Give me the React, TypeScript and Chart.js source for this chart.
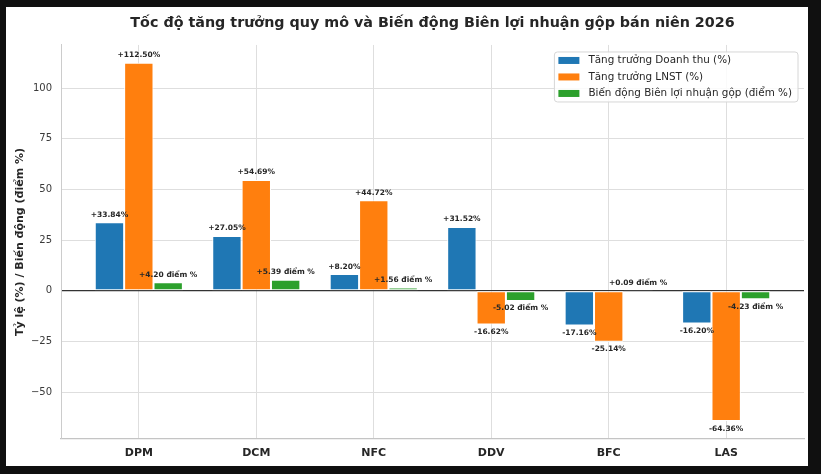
import { useEffect, useRef } from 'react';
import { Chart, registerables } from 'chart.js';

Chart.register(...registerables);

const categories = ['DPM', 'DCM', 'NFC', 'DDV', 'BFC', 'LAS'];
const revenueGrowth = [33.84, 27.05, 8.2, 31.52, -17.16, -16.2];
const profitGrowth = [112.5, 54.69, 44.72, -16.62, -25.14, -64.36];
const marginChange = [4.2, 5.39, 1.56, -5.02, 0.09, -4.23];
const seriesLabels = [
  'Tăng trưởng Doanh thu (%)',
  'Tăng trưởng LNST (%)',
  'Biến động Biên lợi nhuận gộp (điểm %)',
];
const seriesColors = ['#1f77b4', '#ff7f0e', '#2ca02c'];
const yTicks = [-50, -25, 0, 25, 50, 75, 100];

const FONT = '"DejaVu Sans", sans-serif';

// value labels above / below each bar
const valueLabels = {
  id: 'valueLabels',
  afterDatasetsDraw(chart: any) {
    const { ctx } = chart;
    ctx.save();
    ctx.font = `bold 7.5px ${FONT}`;
    ctx.fillStyle = '#262626';
    ctx.textAlign = 'center';
    ctx.textBaseline = 'middle';
    chart.data.datasets.forEach((ds: any, di: number) => {
      const meta = chart.getDatasetMeta(di);
      meta.data.forEach((bar: any, i: number) => {
        const v = ds.data[i].y;
        const sign = v >= 0 ? '+' : '';
        const text = di === 2 ? `${sign}${v.toFixed(2)} điểm %` : `${sign}${v.toFixed(2)}%`;
        const y = v >= 0 ? bar.y - 7.5 : bar.y + 7.5;
        ctx.fillText(text, bar.x, y);
      });
    });
    ctx.restore();
  },
};

// matplotlib-like legend in the upper right of the plot area
const cornerLegend = {
  id: 'cornerLegend',
  afterDraw(chart: any) {
    const { ctx, chartArea } = chart;
    ctx.save();
    ctx.font = `10.4px ${FONT}`;
    const textW = Math.max(...seriesLabels.map((s) => ctx.measureText(s).width));
    const w = 34 + textW + 6;
    const h = 50;
    const left = chartArea.right - 6 - w;
    const top = chartArea.top + 7;
    ctx.beginPath();
    ctx.roundRect(left, top, w, h, 3);
    ctx.fillStyle = 'rgba(255,255,255,0.85)';
    ctx.fill();
    ctx.strokeStyle = '#d6d6d6';
    ctx.lineWidth = 1;
    ctx.stroke();
    ctx.textBaseline = 'middle';
    ctx.textAlign = 'left';
    seriesLabels.forEach((label, i) => {
      const cy = top + 8.5 + i * 16.5;
      ctx.fillStyle = seriesColors[i];
      ctx.fillRect(left + 4, cy - 3.5, 21, 7);
      ctx.fillStyle = '#262626';
      ctx.fillText(label, left + 34, cy);
    });
    ctx.restore();
  },
};

export default function App() {
  const canvasRef = useRef<HTMLCanvasElement>(null);

  useEffect(() => {
    if (!canvasRef.current) return;
    const series = [revenueGrowth, profitGrowth, marginChange];

    const chart = new Chart(canvasRef.current, {
      type: 'bar',
      data: {
        datasets: series.map((values, si) => ({
          label: seriesLabels[si],
          data: values.map((v, i) => ({ x: i, y: v })),
          backgroundColor: seriesColors[si],
          borderColor: '#ffffff',
          borderWidth: 1,
          borderSkipped: false,
          categoryPercentage: 0.75,
          barPercentage: 1,
        })),
      },
      options: {
        animation: false,
        responsive: true,
        maintainAspectRatio: false,
        layout: { padding: { left: 0, right: 4, top: 0, bottom: 0 } },
        plugins: {
          legend: { display: false },
          tooltip: { enabled: false },
          title: {
            display: true,
            fullSize: false,
            text: 'Tốc độ tăng trưởng quy mô và Biến động Biên lợi nhuận gộp bán niên 2026',
            color: '#262626',
            font: { family: FONT, size: 14.3, weight: 'bold' },
            padding: { top: 7.4, bottom: 13.4 },
          },
        },
        scales: {
          x: {
            type: 'linear',
            min: -0.6625,
            max: 5.6625,
            offset: false,
            afterBuildTicks: (scale: any) => {
              scale.ticks = categories.map((_, i) => ({ value: i }));
            },
            afterFit: (scale: any) => {
              scale.height = 27;
            },
            ticks: {
              autoSkip: false,
              maxRotation: 0,
              padding: 7.4,
              color: '#262626',
              font: { family: FONT, size: 11, weight: 'bold' },
              callback: (v: any) => categories[v] ?? '',
            },
            grid: { color: '#dedede', lineWidth: 1, drawTicks: false, offset: false },
            border: { color: '#c4c4c4', width: 1.2 },
          },
          y: {
            min: -73.2,
            max: 121.34,
            afterBuildTicks: (scale: any) => {
              scale.ticks = yTicks.map((v) => ({ value: v }));
            },
            afterFit: (scale: any) => {
              scale.width = 55;
            },
            ticks: {
              padding: 9,
              color: '#3a3a3a',
              font: { family: FONT, size: 10 },
              callback: (v: any) => String(v).replace('-', '\u2212'),
            },
            grid: {
              drawTicks: false,
              color: (c: any) => (c.tick && c.tick.value === 0 ? '#333333' : '#dedede'),
              lineWidth: (c: any) => (c.tick && c.tick.value === 0 ? 1.2 : 1),
            },
            border: { color: '#cccccc', width: 1 },
            title: {
              display: true,
              text: 'Tỷ lệ (%) / Biến động (điểm %)',
              color: '#262626',
              font: { family: FONT, size: 11, weight: 'bold' },
              padding: { top: 7.4, bottom: 0 },
            },
          },
        },
      },
      plugins: [valueLabels, cornerLegend],
    } as any);

    return () => chart.destroy();
  }, []);

  return (
    <div
      style={{
        position: 'fixed',
        left: 0,
        top: 0,
        width: 821,
        height: 474,
        background: '#101010',
      }}
    >
      <div
        style={{
          position: 'absolute',
          left: 6,
          top: 7,
          width: 802,
          height: 459,
          background: '#ffffff',
        }}
      >
        <canvas ref={canvasRef} />
      </div>
    </div>
  );
}
